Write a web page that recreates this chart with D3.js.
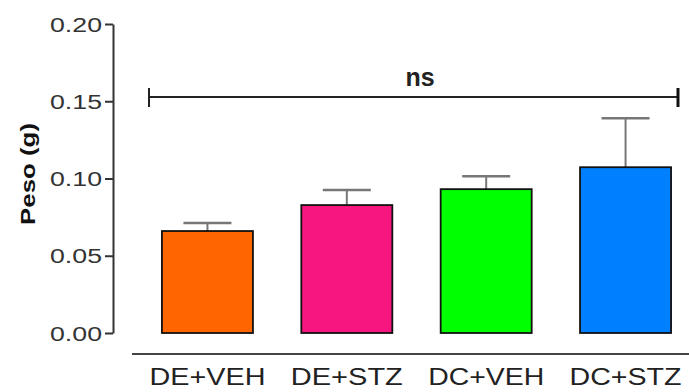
<!DOCTYPE html>
<html>
<head>
<meta charset="utf-8">
<script src="https://cdn.jsdelivr.net/npm/d3@7"></script>
<style>
  html, body { margin: 0; padding: 0; background: #fff; }
  svg { display: block; }
</style>
</head>
<body>
<svg id="chart" width="689" height="392"></svg>
<script>
const categories = ["DE+VEH", "DE+STZ", "DC+VEH", "DC+STZ"];
const means = [0.066, 0.0828, 0.0931, 0.1073];
const errors = [0.0052, 0.0097, 0.0084, 0.0317];
const colors = ["#FF6600", "#F7167F", "#00FF00", "#0080FF"];
const yTicks = [0, 0.05, 0.10, 0.15, 0.20];
const yLabel = "Peso (g)";
const sigLabel = "ns";
const sigLevel = 0.155;

const svg = d3.select("#chart");
const font = "'Liberation Sans', Arial, sans-serif";

const y = d3.scaleLinear().domain([0, 0.2]).range([333, 24]);
const x = d3.scaleBand().domain(categories).range([148, 685])
  .paddingInner(0.347).paddingOuter(0.1);

// Y axis
const yAxis = d3.axisLeft(y).tickValues(yTicks).tickFormat(d3.format(".2f"))
  .tickSize(8).tickSizeOuter(0).tickPadding(3);
const gy = svg.append("g").attr("transform", "translate(113,0)").call(yAxis);
gy.select(".domain").attr("stroke", "#333").attr("stroke-width", 2);
gy.selectAll(".tick line").attr("stroke", "#333").attr("stroke-width", 2);
gy.selectAll(".tick text")
  .attr("font-family", font).attr("font-size", 20).attr("fill", "#333")
  .attr("dy", "0.35em")
  .attr("textLength", 52).attr("lengthAdjust", "spacingAndGlyphs");

// Y label
svg.append("text")
  .attr("transform", `translate(35,${(123 + 225) / 2}) rotate(-90)`)
  .attr("text-anchor", "middle")
  .attr("font-family", font).attr("font-weight", "bold").attr("font-size", 21)
  .attr("fill", "#111")
  .attr("textLength", 102).attr("lengthAdjust", "spacingAndGlyphs")
  .text(yLabel);

// X axis line and labels
svg.append("line").attr("x1", 132).attr("x2", 689).attr("y1", 354).attr("y2", 354)
  .attr("stroke", "#444").attr("stroke-width", 2);
const xAxis = d3.axisBottom(x).tickSize(0).tickPadding(0);
const gx = svg.append("g").attr("transform", "translate(0,354)").call(xAxis);
gx.select(".domain").remove();
gx.selectAll(".tick text")
  .attr("font-family", font).attr("font-size", 24).attr("fill", "#222")
  .attr("y", 31).attr("dy", 0)
  .attr("textLength", d => d.indexOf("VEH") >= 0 ? 116 : 112)
  .attr("lengthAdjust", "spacingAndGlyphs");

// Error bars
const eb = svg.append("g");
categories.forEach((c, i) => {
  const cx = x(c) + x.bandwidth() / 2;
  eb.append("line").attr("x1", cx).attr("x2", cx)
    .attr("y1", y(means[i])).attr("y2", y(means[i] + errors[i]))
    .attr("stroke", "#777").attr("stroke-width", 2);
  eb.append("line").attr("x1", cx - 24).attr("x2", cx + 24)
    .attr("y1", y(means[i] + errors[i])).attr("y2", y(means[i] + errors[i]))
    .attr("stroke", "#777").attr("stroke-width", 2.5);
});

// Bars
svg.append("g").selectAll("rect").data(categories).join("rect")
  .attr("x", d => x(d))
  .attr("y", (d, i) => y(means[i]))
  .attr("width", x.bandwidth())
  .attr("height", (d, i) => y(0) - y(means[i]))
  .attr("fill", (d, i) => colors[i])
  .attr("stroke", "#111").attr("stroke-width", 1.8);

// Significance bracket
const by = 97;
svg.append("line").attr("x1", 149).attr("x2", 678).attr("y1", by).attr("y2", by)
  .attr("stroke", "#222").attr("stroke-width", 2);
svg.append("line").attr("x1", 149).attr("x2", 149).attr("y1", 88).attr("y2", 107)
  .attr("stroke", "#222").attr("stroke-width", 2);
svg.append("line").attr("x1", 678).attr("x2", 678).attr("y1", 88).attr("y2", 107)
  .attr("stroke", "#111").attr("stroke-width", 3);
svg.append("text").attr("x", 420).attr("y", 86).attr("text-anchor", "middle")
  .attr("font-family", font).attr("font-weight", "bold").attr("font-size", 25)
  .attr("fill", "#222").text(sigLabel);
</script>
</body>
</html>
